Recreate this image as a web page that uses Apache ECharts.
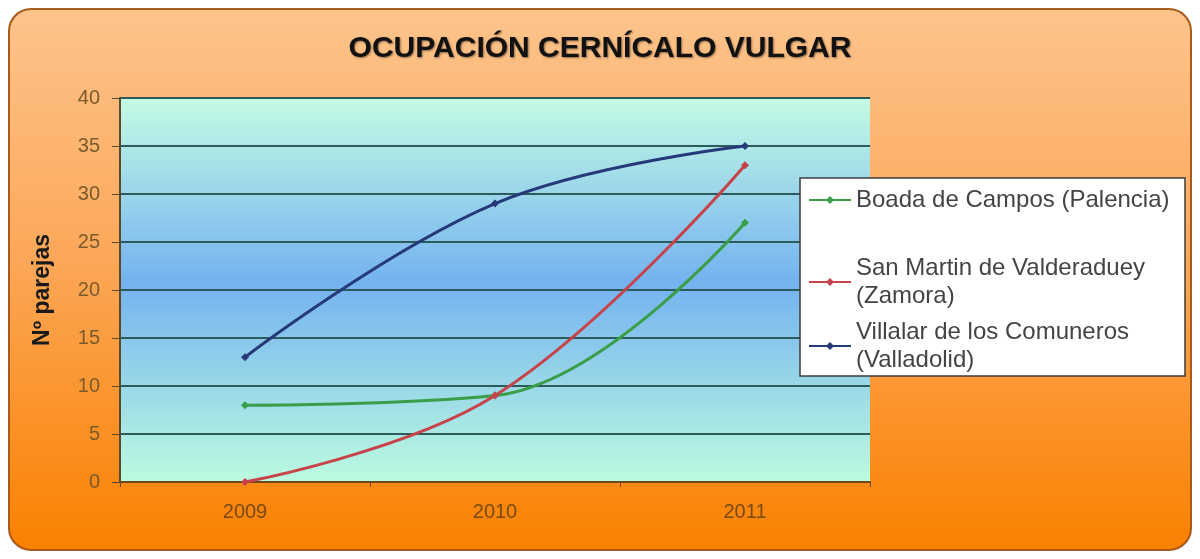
<!DOCTYPE html>
<html>
<head>
<meta charset="utf-8">
<style>
  html, body { margin: 0; padding: 0; background: #fff; }
  #chart { width: 1200px; height: 559px; }
</style>
<script src="https://cdn.jsdelivr.net/npm/echarts@6/dist/echarts.min.js"></script>
</head>
<body>
<div id="chart"></div>
<script>
// datos
const years = ['2009', '2010', '2011'];
const boada = [8, 9, 27];
const sanMartin = [0, 9, 33];
const villalar = [13, 29, 35];
const seriesNames = [
    'Boada de Campos (Palencia)',
    'San Martin de Valderaduey\n(Zamora)',
    'Villalar de los Comuneros\n(Valladolid)'
];
const legendTops = [186, 254, 318];

const myEcharts = echarts.init(document.getElementById('chart'));

const lineSerie = (name, data, color) => ({
    name: name,
    type: 'line',
    smooth: 0.4,
    symbol: 'diamond',
    symbolSize: 8,
    showAllSymbol: true,
    lineStyle: { color: color, width: 3 },
    itemStyle: { color: color },
    data: data
});

// una leyenda por serie para respetar el espaciado de Excel
const legends = seriesNames.map((name, i) => ({
    orient: 'vertical',
    z: 20,
    left: 802,
    top: legendTops[i],
    padding: [0, 0, 0, 6],
    itemWidth: 42,
    itemHeight: 10,
    textStyle: {
        fontFamily: 'Liberation Sans, Arial, sans-serif',
        fontSize: 24,
        lineHeight: 28,
        color: '#444'
    },
    data: [name]
}));

const option = {
    backgroundColor: '#fff',
    animation: false,
    graphic: [{
        type: 'rect',
        z: -10,
        shape: { x: 9, y: 9, width: 1182, height: 541, r: 22 },
        style: {
            fill: new echarts.graphic.LinearGradient(0, 0, 0, 1, [
                { offset: 0, color: '#fdc48c' },
                { offset: 0.45, color: '#fca85a' },
                { offset: 1, color: '#fa8100' }
            ]),
            stroke: '#a85a1c',
            lineWidth: 2
        }
    }, {
        type: 'rect',
        z: 3,
        shape: { x: 800, y: 178, width: 385, height: 198 },
        style: { fill: '#fff', stroke: '#3c3c3c', lineWidth: 1.5 }
    }],
    title: {
        text: 'OCUPACIÓN CERNÍCALO VULGAR',
        left: 'center',
        top: 29,
        textStyle: {
            fontFamily: 'Liberation Sans, Arial, sans-serif',
            fontSize: 30,
            fontWeight: 'bold',
            color: '#111',
            textShadowColor: 'rgba(0,0,0,0.45)',
            textShadowBlur: 2,
            textShadowOffsetX: 1,
            textShadowOffsetY: 1
        }
    },
    grid: {
        left: 120,
        right: 330,
        top: 98,
        bottom: 77,
        show: true,
        borderWidth: 0,
        backgroundColor: new echarts.graphic.LinearGradient(0, 0, 0, 1, [
            { offset: 0, color: '#c4fbe4' },
            { offset: 0.48, color: '#74b2f0' },
            { offset: 1, color: '#bcfbe0' }
        ])
    },
    legend: legends,
    xAxis: {
        type: 'category',
        data: years,
        boundaryGap: true,
        axisLine: { lineStyle: { color: '#6a4a1a', width: 2 } },
        axisTick: { show: true, length: 5, lineStyle: { color: '#6a4a1a' } },
        axisLabel: {
            margin: 20,
            fontFamily: 'Liberation Sans, Arial, sans-serif',
            fontSize: 20,
            color: '#7a4a12'
        }
    },
    yAxis: {
        type: 'value',
        min: 0,
        max: 40,
        interval: 5,
        name: 'Nº parejas',
        nameLocation: 'middle',
        nameGap: 66,
        nameTextStyle: {
            fontFamily: 'Liberation Sans, Arial, sans-serif',
            fontSize: 23,
            fontWeight: 'bold',
            color: '#1a1a1a'
        },
        axisLine: { show: true, lineStyle: { color: '#5a4a2a', width: 2 } },
        axisTick: { show: true, length: 8, lineStyle: { color: '#5a4a2a' } },
        axisLabel: {
            margin: 20,
            fontFamily: 'Liberation Sans, Arial, sans-serif',
            fontSize: 20,
            color: '#7a5a2a'
        },
        splitLine: { show: true, lineStyle: { color: '#2d5b5b', width: 2 } }
    },
    series: [
        lineSerie(seriesNames[0], boada, '#3a9e48'),
        lineSerie(seriesNames[1], sanMartin, '#c8424a'),
        lineSerie(seriesNames[2], villalar, '#263a7a')
    ]
};

myEcharts.setOption(option);
</script>
</body>
</html>
